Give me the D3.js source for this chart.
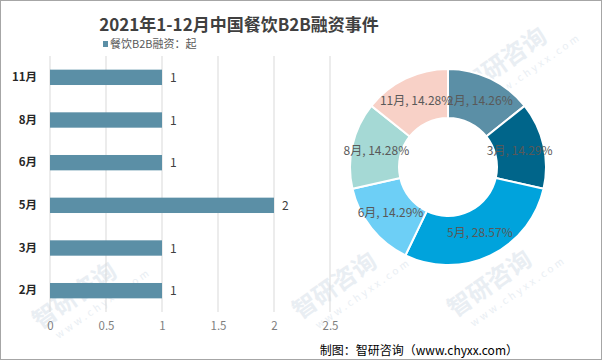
<!DOCTYPE html>
<html><head><meta charset="utf-8">
<script src="https://cdn.jsdelivr.net/npm/d3@7"></script>
<style>body{margin:0;background:#fff}svg{display:block}text{font-family:"Microsoft YaHei","Noto Sans CJK SC",sans-serif}</style>
</head><body>
<svg id="c" width="602" height="360"></svg>
<script>
const categories = ["11月","8月","6月","5月","3月","2月"];
const values = [1,1,1,2,1,1];
const xTicks = [0,0.5,1,1.5,2,2.5];
const pieCategories = ["2月","3月","5月","6月","8月","11月"];
const pieValues = [1,1,2,1,1,1];
const pieLabels = ["14.26%","14.29%","28.57%","14.29%","14.28%","14.28%"];
const pieColors = ["#5b8fa6","#00658a","#00a3dc","#6dcff6","#a5d9d5","#f8d1c7"];
const seriesName = "餐饮B2B融资：起";
const title = "2021年1-12月中国餐饮B2B融资事件";
const source = "制图：智研咨询（www.chyxx.com）";

const svg = d3.select("#c");
svg.append("rect").attr("x",0.5).attr("y",0.5).attr("width",601).attr("height",359)
  .attr("fill","#fff").attr("stroke","#a6a6a6");

// faint watermarks
const wm = svg.append("g").attr("fill","#e9eef3");
[[40,330],[300,320],[470,95],[455,318]].forEach(([x,y])=>{
  const g = wm.append("g").attr("transform",`translate(${x},${y}) rotate(-35)`);
  g.append("text").attr("font-size",24).attr("font-weight","bold").text("智研咨询");
  g.append("text").attr("y",18).attr("x",10).attr("font-size",10).attr("letter-spacing",3).text("www.chyxx.com");
});

svg.append("text").attr("x",239).attr("y",31).attr("text-anchor","middle")
  .attr("font-size",17).attr("font-weight","bold").attr("fill","#404040").text(title);

svg.append("rect").attr("x",103).attr("y",41).attr("width",5).attr("height",6).attr("fill","#5b8fa6");
svg.append("text").attr("x",110).attr("y",48).attr("font-size",11).attr("fill","#595959").text(seriesName);

// bar chart
const x = d3.scaleLinear().domain([0,2.5]).range([50,330]);
const y = d3.scaleBand().domain(categories).range([56,312]).paddingInner(0.64).paddingOuter(0.32);

svg.append("g").selectAll("line").data(xTicks).join("line")
  .attr("x1",d=>x(d)).attr("x2",d=>x(d)).attr("y1",56).attr("y2",312)
  .attr("stroke","#d9d9d9").attr("stroke-width",1);

const ax = svg.append("g").attr("transform","translate(0,312)")
  .call(d3.axisBottom(x).tickValues(xTicks).tickSize(0).tickPadding(10).tickFormat(d3.format("")));
ax.select(".domain").remove();
ax.selectAll("text").attr("font-size",11.5).attr("fill","#7f7f7f").attr("font-family","Microsoft YaHei, Noto Sans CJK SC, sans-serif");

const ay = svg.append("g").attr("transform","translate(50,0)")
  .call(d3.axisLeft(y).tickSize(0).tickPadding(13));
ay.select(".domain").remove();
ay.selectAll("text").attr("font-size",11.5).attr("font-weight","bold").attr("fill","#262626").attr("font-family","Microsoft YaHei, Noto Sans CJK SC, sans-serif");

svg.append("g").selectAll("rect").data(categories).join("rect")
  .attr("x",x(0)).attr("y",d=>y(d)).attr("height",y.bandwidth())
  .attr("width",(d,i)=>x(values[i])-x(0)).attr("fill","#5b8fa6");

svg.append("g").selectAll("text").data(categories).join("text")
  .attr("x",(d,i)=>x(values[i])+8).attr("y",d=>y(d)+y.bandwidth()/2+4.5)
  .attr("font-size",12).attr("fill","#404040").text((d,i)=>values[i]);

// donut
const cx=448, cy=167, R=98, r=49;
const pie = d3.pie().sort(null).value(d=>d)(pieValues);
const arc = d3.arc().innerRadius(r).outerRadius(R);
const pg = svg.append("g").attr("transform",`translate(${cx},${cy})`);
pg.selectAll("path").data(pie).join("path").attr("d",arc)
  .attr("fill",(d,i)=>pieColors[i]).attr("stroke","#fff").attr("stroke-width",2);
pg.selectAll("text").data(pie).join("text")
  .attr("transform",d=>`translate(${arc.centroid(d)})`).attr("dy","0.35em")
  .attr("text-anchor","middle").attr("font-size",12).attr("fill","#595959")
  .text((d,i)=>`${pieCategories[i]}, ${pieLabels[i]}`);

svg.append("text").attr("x",518).attr("y",355).attr("text-anchor","end")
  .attr("font-size",12).attr("fill","#000").text(source);
</script>
</body></html>
